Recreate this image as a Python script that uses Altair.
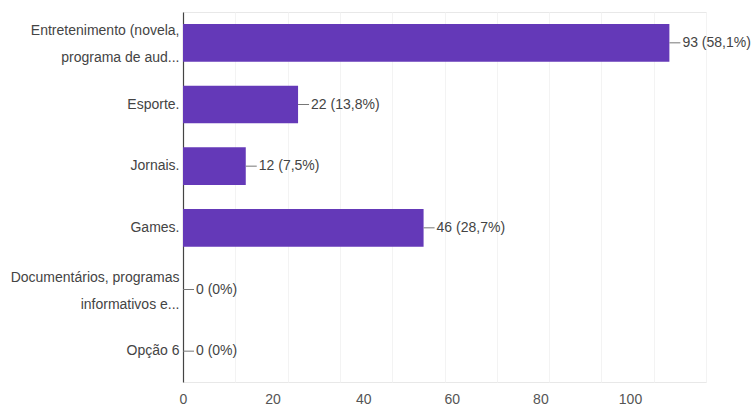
import altair as alt
import pandas as pd

categories = [
    "Entretenimento (novela,|programa de aud...",
    "Esporte.",
    "Jornais.",
    "Games.",
    "Documentários, programas|informativos e...",
    "Opção 6",
]
counts = [93, 22, 12, 46, 0, 0]
percents = ["58,1%", "13,8%", "7,5%", "28,7%", "0%", "0%"]
x_ticks = [0, 10, 20, 30, 40, 50, 60, 70, 80, 90, 100]
# horizontal shift of the printed tick labels, as seen in the reference
x_label_shift = {20: -15, 40: -29, 60: -45, 80: -61, 100: -76}

df = pd.DataFrame({
    "categoria": categories,
    "n": counts,
    "pct": percents,
})
df["rotulo"] = df["n"].astype(str) + " (" + df["pct"] + ")"

FONT = "Liberation Sans"
FS = 14
PURPLE = "#6439b8"

y_enc = alt.Y(
    "categoria:N",
    sort=categories,
    title=None,
    scale=alt.Scale(paddingInner=0.39, paddingOuter=0.195),
    axis=alt.Axis(
        labelExpr="split(datum.label, '|')",
        labelFont=FONT,
        labelFontSize=FS,
        labelColor="#444444",
        labelLineHeight=27,
        labelPadding=4,
        labelLimit=200,
        labelOffset={
            "condition": {"test": "indexof(datum.value, '|') >= 0", "value": -12},
            "value": 0,
        },
        ticks=False,
        domainColor="#444444",
        domainWidth=1.2,
        grid=False,
    ),
)

x_enc = alt.X(
    "n:Q",
    title=None,
    scale=alt.Scale(domain=[0, 100], nice=False),
    axis=alt.Axis(
        values=x_ticks,
        labelExpr="datum.value % 20 == 0 ? datum.label : ''",
        labelFont=FONT,
        labelFontSize=FS,
        labelColor="#555555",
        labelPadding=10,
        labelFlush=False,
        labelOffset={
            "condition": [
                {"test": f"datum.value == {k}", "value": v}
                for k, v in x_label_shift.items()
            ],
            "value": 0,
        },
        ticks=False,
        domain=False,
        grid=True,
        gridColor="#f3f3f3",
        gridWidth=1,
    ),
)

bars = alt.Chart(df).mark_bar(color=PURPLE).encode(y=y_enc, x=x_enc)

leaders = alt.Chart(df).mark_rule(color="#777777", strokeWidth=1, x2Offset=11).encode(
    y=alt.Y("categoria:N", sort=categories, bandPosition=0.5),
    x="n:Q",
    x2="n:Q",
)

labels = alt.Chart(df).mark_text(
    align="left", baseline="middle", dx=13, font=FONT, fontSize=FS, color="#444444"
).encode(
    y=alt.Y("categoria:N", sort=categories),
    x="n:Q",
    text="rotulo:N",
)

chart = (
    alt.layer(bars, leaders, labels)
    .properties(
        width=523,
        height=370,
        autosize=alt.AutoSizeParams(type="none"),
        padding={"left": 183, "top": 12, "right": 48, "bottom": 30},
        background="white",
    )
    .configure_view(stroke="#e8e8e8", strokeWidth=1)
)

chart.save("out.html", embed_options={"renderer": "svg", "actions": False})
